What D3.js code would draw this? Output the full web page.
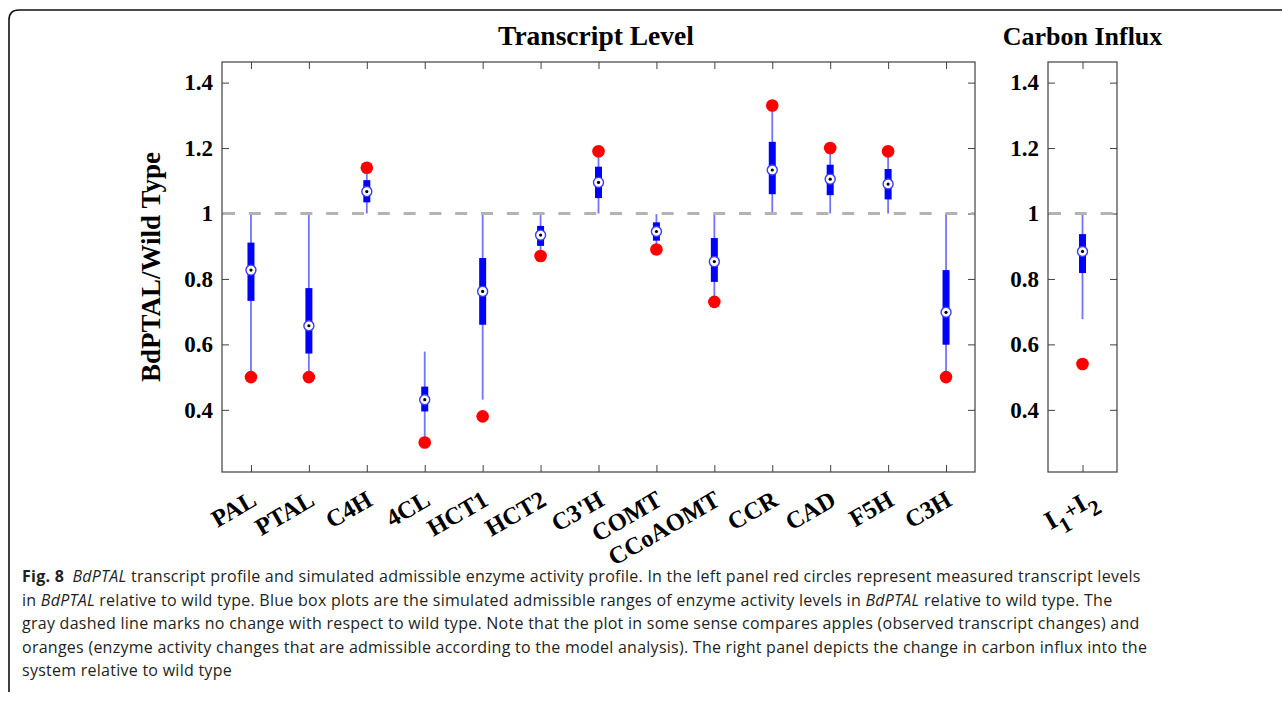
<!DOCTYPE html>
<html>
<head>
<meta charset="utf-8">
<script src="https://cdn.jsdelivr.net/npm/d3@7"></script>
<style>
  body { margin: 0; background: #fff; }
  svg { display: block; }
  .tick text { font-family: "Liberation Serif", serif; font-weight: bold; font-size: 23px; fill: #000; }
  .tick line { stroke: #404040; }
</style>
</head>
<body>
<div id="chart"></div>
<script>
// enzymes of the left panel
const genes = ["PAL", "PTAL", "C4H", "4CL", "HCT1", "HCT2", "C3'H", "COMT", "CCoAOMT", "CCR", "CAD", "F5H", "C3H"];
// simulated admissible activity (box plots)
const whiskerLow  = [0.50, 0.50, 1.00, 0.30, 0.431, 0.87, 1.00, 0.89, 0.733, 1.00, 1.00, 1.00, 0.50];
const boxLow      = [0.733, 0.572, 1.034, 0.395, 0.66, 0.901, 1.047, 0.917, 0.791, 1.059, 1.056, 1.043, 0.599];
const medians     = [0.827, 0.657, 1.067, 0.431, 0.762, 0.934, 1.095, 0.945, 0.853, 1.133, 1.105, 1.09, 0.698];
const boxHigh     = [0.911, 0.772, 1.102, 0.471, 0.864, 0.962, 1.143, 0.973, 0.925, 1.219, 1.149, 1.136, 0.827];
const whiskerHigh = [1.00, 1.00, 1.14, 0.578, 1.00, 0.995, 1.19, 0.998, 1.00, 1.33, 1.20, 1.19, 1.00];
// measured transcript levels (red circles)
const measured    = [0.50, 0.50, 1.14, 0.30, 0.38, 0.87, 1.19, 0.89, 0.73, 1.33, 1.20, 1.19, 0.50];

// right panel: carbon influx I1 + I2
const influxBox = [{ wl: 0.677, bl: 0.818, med: 0.884, bh: 0.937, wh: 1.00 }];
const influxMeasured = [0.54];

const yTicks = [0.4, 0.6, 0.8, 1, 1.2, 1.4];

const captionLines = [
  [["b", "Fig. 8"], ["n", "\u2002"], ["i", "BdPTAL"], ["n", " transcript profile and simulated admissible enzyme activity profile. In the left panel red circles represent measured transcript levels"]],
  [["n", "in "], ["i", "BdPTAL"], ["n", " relative to wild type. Blue box plots are the simulated admissible ranges of enzyme activity levels in "], ["i", "BdPTAL"], ["n", " relative to wild type. The"]],
  [["n", "gray dashed line marks no change with respect to wild type. Note that the plot in some sense compares apples (observed transcript changes) and"]],
  [["n", "oranges (enzyme activity changes that are admissible according to the model analysis). The right panel depicts the change in carbon influx into the"]],
  [["n", "system relative to wild type"]]
];

const W = 1282, H = 704;
const svg = d3.select("#chart").append("svg").attr("width", W).attr("height", H);

// figure frame (top and left edges with rounded corner)
svg.append("path")
  .attr("d", "M9,692 L9,20 Q9,10 19,10 L1282,10")
  .attr("fill", "none").attr("stroke", "#111").attr("stroke-width", 1.6);

const plotTop = 62, plotBottom = 472;
const y = d3.scaleLinear().domain([0.21, 1.463]).range([plotBottom, plotTop]);
const xL = d3.scaleLinear().domain([0.5, 13.5]).range([222, 975]);
const xR = d3.scaleLinear().domain([0.5, 1.5]).range([1048, 1117]);

const fmt = d => d === 1 ? "1" : d3.format(".1f")(d);
const serif = "'Liberation Serif', 'Times New Roman', serif";

function drawAxes(x, n) {
  const [x0, x1] = x.range();
  const g = svg.append("g");
  g.append("g").attr("transform", `translate(${x0},0)`)
    .call(d3.axisLeft(y).tickValues(yTicks).tickSize(-7).tickPadding(9).tickFormat(fmt))
    .call(a => a.select(".domain").remove());
  g.append("g").attr("transform", `translate(${x1},0)`)
    .call(d3.axisRight(y).tickValues(yTicks).tickSize(-7).tickFormat(""))
    .call(a => a.select(".domain").remove());
  const xt = d3.range(1, n + 1);
  g.append("g").attr("transform", `translate(0,${plotTop})`)
    .call(d3.axisTop(x).tickValues(xt).tickSize(-7).tickFormat(""))
    .call(a => a.select(".domain").remove());
  g.append("g").attr("transform", `translate(0,${plotBottom})`)
    .call(d3.axisBottom(x).tickValues(xt).tickSize(-7).tickFormat(""))
    .call(a => a.select(".domain").remove());
  g.append("rect")
    .attr("x", x0).attr("y", plotTop).attr("width", x1 - x0).attr("height", plotBottom - plotTop)
    .attr("fill", "none").attr("stroke", "#404040").attr("stroke-width", 1.2);
  return g;
}

function drawBoxes(x, rows, meas) {
  const g = svg.append("g");
  const b = g.selectAll("g.box").data(rows).enter().append("g").attr("class", "box");
  b.append("line")
    .attr("x1", (d, i) => x(i + 1)).attr("x2", (d, i) => x(i + 1))
    .attr("y1", d => y(d.wl)).attr("y2", d => y(d.wh))
    .attr("stroke", "#7373ff").attr("stroke-width", 1.8);
  b.append("line")
    .attr("x1", (d, i) => x(i + 1)).attr("x2", (d, i) => x(i + 1))
    .attr("y1", d => y(d.bl)).attr("y2", d => y(d.bh))
    .attr("stroke", "#0000ff").attr("stroke-width", 7);
  b.append("circle")
    .attr("cx", (d, i) => x(i + 1)).attr("cy", d => y(d.med)).attr("r", 5)
    .attr("fill", "#fff").attr("stroke", "#3a3aff").attr("stroke-width", 1.4);
  b.append("circle")
    .attr("cx", (d, i) => x(i + 1)).attr("cy", d => y(d.med)).attr("r", 1.6)
    .attr("fill", "#000");

  // no-change reference line
  const [x0, x1] = x.range();
  g.append("line")
    .attr("x1", x0 + 1).attr("x2", x1 - 1).attr("y1", y(1)).attr("y2", y(1))
    .attr("stroke", "#b3b3b3").attr("stroke-width", 3).attr("stroke-dasharray", "12,13.8");

  g.selectAll("circle.meas").data(meas).enter().append("circle")
    .attr("class", "meas")
    .attr("cx", (d, i) => x(i + 1)).attr("cy", d => y(d)).attr("r", 6.3)
    .attr("fill", "#ff0000");
}

const leftRows = genes.map((g, i) => ({
  wl: whiskerLow[i], bl: boxLow[i], med: medians[i], bh: boxHigh[i], wh: whiskerHigh[i]
}));

drawAxes(xL, genes.length);
drawBoxes(xL, leftRows, measured);
drawAxes(xR, 1);
drawBoxes(xR, influxBox, influxMeasured);

// x tick labels, rotated
svg.append("g").selectAll("text").data(genes).enter().append("text")
  .attr("transform", (d, i) => `translate(${xL(i + 1) + 3},${plotBottom + 25}) rotate(-30)`)
  .attr("text-anchor", "end").attr("dy", "0.35em")
  .attr("font-family", serif).attr("font-weight", "bold").attr("font-size", 24.5)
  .text(d => d);

const lab = svg.append("text")
  .attr("transform", `translate(${xR(1) + 11},${plotBottom + 23}) rotate(-30)`)
  .attr("text-anchor", "end").attr("dy", "0.35em")
  .attr("font-family", serif).attr("font-weight", "bold").attr("font-size", 26);
lab.append("tspan").text("I");
lab.append("tspan").attr("baseline-shift", "-45%").attr("font-size", 22).text("1");
lab.append("tspan").attr("font-size", 22).text("+");
lab.append("tspan").text("I");
lab.append("tspan").attr("baseline-shift", "-45%").attr("font-size", 22).text("2");

// panel titles
svg.append("text").attr("x", 596).attr("y", 45)
  .attr("text-anchor", "middle").attr("font-family", serif).attr("font-weight", "bold")
  .attr("font-size", 27.5).text("Transcript Level");
svg.append("text").attr("x", xR(1)).attr("y", 45)
  .attr("text-anchor", "middle").attr("font-family", serif).attr("font-weight", "bold")
  .attr("font-size", 26).text("Carbon Influx");

// y label
svg.append("text")
  .attr("transform", `translate(160,${(plotTop + plotBottom) / 2}) rotate(-90)`)
  .attr("text-anchor", "middle").attr("font-family", serif).attr("font-weight", "bold")
  .attr("font-size", 27).text("BdPTAL/Wild Type");

// caption
const cap = svg.append("g").attr("font-family", "'Open Sans', 'Noto Sans', sans-serif").attr("fill", "#231f20");
const baselines = [582, 605.5, 629, 652.5, 676];
captionLines.forEach((parts, li) => {
  const t = cap.append("text").attr("x", 22).attr("y", baselines[li])
    .attr("font-size", 16).attr("letter-spacing", 0.26);
  parts.forEach(([k, s]) => {
    const sp = t.append("tspan").text(s);
    if (k === "b") sp.attr("font-weight", "bold");
    if (k === "i") sp.attr("font-style", "italic");
  });
});
</script>
</body>
</html>
